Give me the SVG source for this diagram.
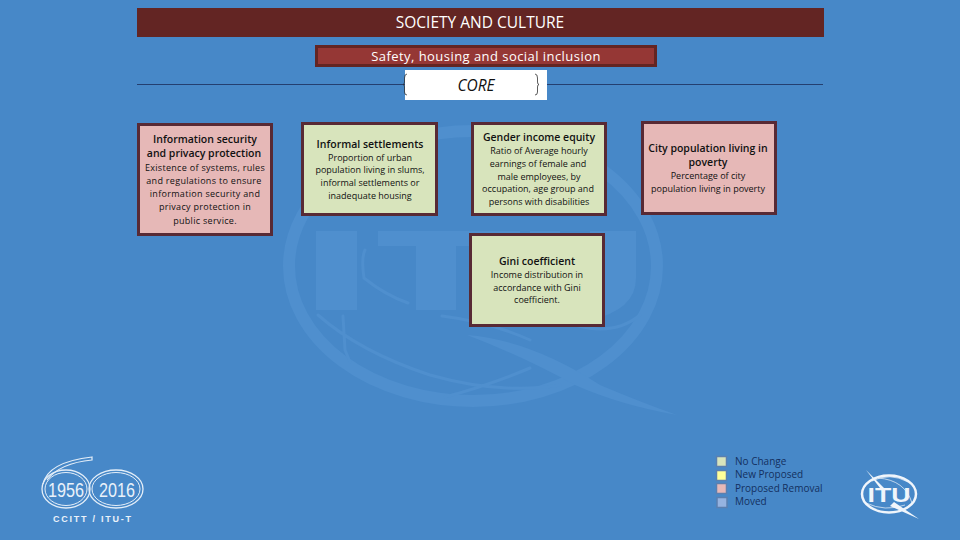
<svg xmlns="http://www.w3.org/2000/svg" width="960" height="540" viewBox="0 0 960 540">
<style>
.t{font-family:"Open Sans","Liberation Sans",sans-serif;text-anchor:middle;fill:#111}
.h{font-size:10.500px;font-weight:600}
.b{font-size:9px}
.w{letter-spacing:.3px}
.box{stroke:#582A35;stroke-width:3}
.pink{fill:#E6B8B7}
.green{fill:#D8E4BC}
.wm{fill:none;stroke:#4F8FCE;stroke-linecap:round}
.wt{fill:#4F8FCE}
.logo{fill:none;stroke:#E4EEF8}
.leg{font-family:"Open Sans","Liberation Sans",sans-serif;font-size:10px;fill:#14305F}
.sw{stroke:#5B7FAF;stroke-width:1.500}
.gl{fill:none;stroke:#F0F5FB;stroke-width:.7}
</style>
<rect width="960" height="540" fill="#4788C8"/>
<g id="watermark">
<ellipse class="wm" cx="473" cy="266" rx="184" ry="135" stroke-width="12"/>
<path class="wm" stroke-width="3" d="M318 315Q360 352 430 375Q500 395 560 385M343 316L345 350L350 362M365 250Q361 258 364 278Q385 295 408 303M442 316Q490 322 530 340M445 397Q490 385 530 368M560 320Q610 340 640 315"/>
<path class="wt" d="M467 335Q530 340 600 385Q640 402 677 415Q620 405 575 385Q520 355 467 335Z"/>
<rect class="wt" x="316" y="231" width="41" height="79"/>
<path class="wt" d="M378 231H520V246H456V310H416V246H378Z"/>
<path class="wt" d="M530 231H560V285Q560 297 590 297V231H636V278Q636 310 590 320H560Q530 320 530 280Z"/>
</g>
<g id="title"><rect x="137" y="8" width="687" height="29" fill="#632523"/><text x="480" y="28" font-family="Open Sans,Liberation Sans,sans-serif" font-size="15.500" fill="#fff" text-anchor="middle">SOCIETY AND CULTURE</text></g>
<g id="subtitle"><rect x="316.500" y="46.500" width="339" height="19" fill="#953735" stroke="#632523" stroke-width="3"/><text x="486" y="61" font-family="Open Sans,Liberation Sans,sans-serif" font-size="13" letter-spacing=".45" fill="#fff" text-anchor="middle">Safety, housing and social inclusion</text></g>
<g id="connectors"><path d="M137 84.500H405M547 84.500H823" stroke="#243F70" stroke-width="1"/></g>
<g id="core"><rect x="405" y="70" width="142" height="30" fill="#fff"/>
<path d="M407 74Q404.500 74 404.500 78V82Q404.500 84.500 403 84.500Q404.500 84.500 404.500 87V92Q404.500 95 407 95M535 74Q537.500 74 537.500 78V82Q537.500 84.500 539 84.500Q537.500 84.500 537.500 87V92Q537.500 95 535 95" fill="none" stroke="#333" stroke-width="0.800"/>
<text x="476" y="91" font-family="Open Sans,Liberation Sans,sans-serif" font-size="15.500" font-style="italic" fill="#111" text-anchor="middle">CORE</text></g>
<g id="node-info"><rect class="box pink" x="138.500" y="124.500" width="133" height="110"/>
<text class="t h" x="205" y="143">Information security</text><text class="t h" x="204" y="157">and privacy protection</text>
<text class="t b w" x="205" y="171">Existence of systems, rules</text><text class="t b w" x="204" y="184">and regulations to ensure</text><text class="t b w" x="205" y="197">information security and</text><text class="t b w" x="205" y="210">privacy protection in</text><text class="t b w" x="205" y="224">public service.</text></g>
<g id="node-informal"><rect class="box green" x="302.500" y="123.500" width="134" height="91"/>
<text class="t h" x="370" y="148">Informal settlements</text>
<text class="t b" x="370" y="161">Proportion of urban</text><text class="t b" x="370" y="173">population living in slums,</text><text class="t b" x="370" y="186">informal settlements or</text><text class="t b" x="370" y="199">inadequate housing</text></g>
<g id="node-gender"><rect class="box green" x="472.500" y="123.500" width="133" height="91"/>
<text class="t h" x="539" y="141">Gender income equity</text>
<text class="t b" x="539" y="154">Ratio of Average hourly</text><text class="t b" x="538" y="167">earnings of female and</text><text class="t b" x="539" y="180">male employees, by</text><text class="t b" x="538" y="192">occupation, age group and</text><text class="t b" x="539" y="205">persons with disabilities</text></g>
<g id="node-poverty"><rect class="box pink" x="642.500" y="122.500" width="133" height="91"/>
<text class="t h" x="708" y="152">City population living in</text><text class="t h" x="708" y="166">poverty</text>
<text class="t b" x="708" y="179">Percentage of city</text><text class="t b" x="708" y="192">population living in poverty</text></g>
<g id="node-gini"><rect class="box green" x="470.500" y="234.500" width="133" height="91"/>
<text class="t h" x="537" y="265">Gini coefficient</text>
<text class="t b" x="537" y="278">Income distribution in</text><text class="t b" x="537" y="291">accordance with Gini</text><text class="t b" x="537" y="303">coefficient.</text></g>
<g id="legend">
<rect class="sw" x="716.500" y="456.500" width="10" height="10" fill="#D8E4BC"/><text class="leg" x="735" y="465">No Change</text>
<rect class="sw" x="716.500" y="470.500" width="10" height="10" fill="#FFFF99"/><text class="leg" x="735" y="478">New Proposed</text>
<rect class="sw" x="716.500" y="483.500" width="10" height="10" fill="#E6B8B7"/><text class="leg" x="735" y="492">Proposed Removal</text>
<rect class="sw" x="717" y="497.500" width="10" height="10" fill="#95B3E0"/><text class="leg" x="735" y="505">Moved</text>
</g>
<g id="logo-60">
<ellipse class="logo" cx="66" cy="489" rx="24" ry="19" stroke-width="1.300"/><ellipse class="logo" cx="66" cy="489" rx="21" ry="16.500"/>
<ellipse class="logo" cx="116" cy="489" rx="27" ry="19" stroke-width="1.300"/><ellipse class="logo" cx="116" cy="489" rx="24" ry="16.500"/>
<path class="logo" stroke-width="1.200" d="M43 484Q48 462 92 457L92 460Q60 463 47 480"/>
<text x="66" y="497" font-family="Liberation Sans,sans-serif" font-size="21" fill="#EAF2FA" text-anchor="middle" textLength="36" lengthAdjust="spacingAndGlyphs">1956</text>
<text x="117" y="497" font-family="Liberation Sans,sans-serif" font-size="21" fill="#EAF2FA" text-anchor="middle" textLength="36" lengthAdjust="spacingAndGlyphs">2016</text>
<text x="92" y="522" font-family="Liberation Sans,sans-serif" font-size="9" font-weight="700" fill="#EAF2FA" text-anchor="middle" textLength="78">CCITT / ITU-T</text>
</g>
<g id="logo-itu">
<ellipse cx="889" cy="494" rx="27" ry="18.500" fill="none" stroke="#F0F5FB" stroke-width="2.500"/>
<path class="gl" d="M872 481Q890 472 908 482M878 478Q905 480 912 503M866 503Q885 512 905 505"/>
<path d="M866 470L884 488L880 488ZM894 502L919 519L890 506Z" fill="#F0F5FB"/>
<text x="889" y="502" font-family="Liberation Sans,sans-serif" font-size="20" font-weight="700" fill="#F0F5FB" text-anchor="middle" textLength="43" lengthAdjust="spacingAndGlyphs">ITU</text>
</g>
</svg>
